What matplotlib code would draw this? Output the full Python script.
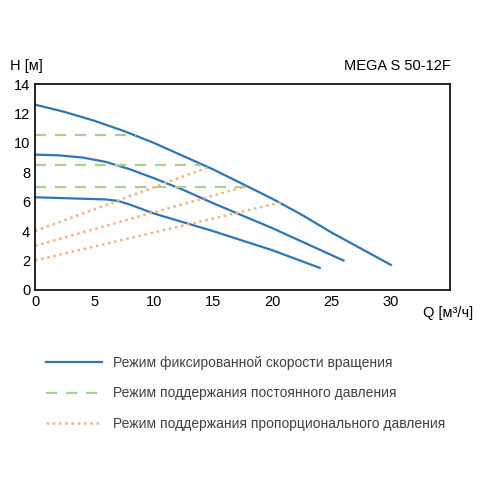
import matplotlib.pyplot as plt
from matplotlib.lines import Line2D

plt.rcParams["font.family"] = ["Liberation Sans", "DejaVu Sans"]

# fixed-speed curves (Q, H)
q_high = [0, 2.5, 5, 7.5, 10, 12.5, 15, 17.5, 20, 22.5, 25, 27.5, 30]
h_high = [12.6, 12.1, 11.5, 10.8, 10.0, 9.1, 8.2, 7.2, 6.2, 5.1, 3.9, 2.8, 1.7]
q_mid = [0, 2, 4, 6, 8, 10, 12.5, 15, 17.5, 20, 23, 26]
h_mid = [9.2, 9.15, 9.0, 8.7, 8.2, 7.6, 6.8, 5.9, 5.05, 4.2, 3.1, 2.0]
q_low = [0, 2, 4, 6, 7, 8, 9, 10, 12.5, 15, 17.5, 20, 22, 24]
h_low = [6.3, 6.25, 6.2, 6.15, 6.05, 5.8, 5.5, 5.2, 4.6, 4.0, 3.35, 2.7, 2.1, 1.5]

# constant pressure levels (H, Q end)
const_h = [10.5, 8.5, 7.0]
const_qend = [8.5, 14.0, 17.8]

# proportional pressure lines (H at Q=0, Q end, H end)
prop_h0 = [4.0, 3.0, 2.0]
prop_qend = [14.8, 17.6, 21.0]
prop_hend = [8.4, 7.0, 6.0]

blue = "#2e75b6"
green = "#a9d18e"
orange = "#f4b183"

fig = plt.figure(figsize=(4.8, 4.8), dpi=100)
ax = fig.add_axes([0.073, 0.396, 0.865, 0.429])

for q, h in [(q_high, h_high), (q_mid, h_mid), (q_low, h_low)]:
    ax.plot(q, h, color=blue, lw=1.6)
for h, qe in zip(const_h, const_qend):
    ax.plot([0, qe], [h, h], color=green, lw=1.6, ls=(0, (5, 4)))
for h0, qe, he in zip(prop_h0, prop_qend, prop_hend):
    ax.plot([0, qe], [h0, he], color=orange, lw=1.8, ls=(0, (1, 1.5)))

ax.set_xlim(0, 35)
ax.set_ylim(0, 14)
ax.set_xticks([0, 5, 10, 15, 20, 25, 30])
ax.set_yticks(range(0, 15, 2))
ax.tick_params(labelsize=10.5, length=0)
for s in ax.spines.values():
    s.set_linewidth(1.2)

fig.text(0.02, 0.855, "H [м]", fontsize=10.5)
fig.text(0.94, 0.855, "MEGA S 50-12F", fontsize=10.5, ha="right")
fig.text(0.985, 0.34, "Q [м³/ч]", fontsize=10.5, ha="right")

handles = [Line2D([], [], color=blue, lw=1.6),
           Line2D([], [], color=green, lw=1.6, ls=(0, (5, 4))),
           Line2D([], [], color=orange, lw=1.8, ls=(0, (1, 1.5)))]
labels = ["Режим фиксированной скорости вращения",
          "Режим поддержания постоянного давления",
          "Режим поддержания пропорционального давления"]
fig.legend(handles, labels, loc="upper left", bbox_to_anchor=(0.07, 0.285),
           frameon=False, fontsize=10, handlelength=4.0, labelspacing=1.2,
           handletextpad=0.8, labelcolor="#404040")

fig.savefig("out.png", dpi=100)
